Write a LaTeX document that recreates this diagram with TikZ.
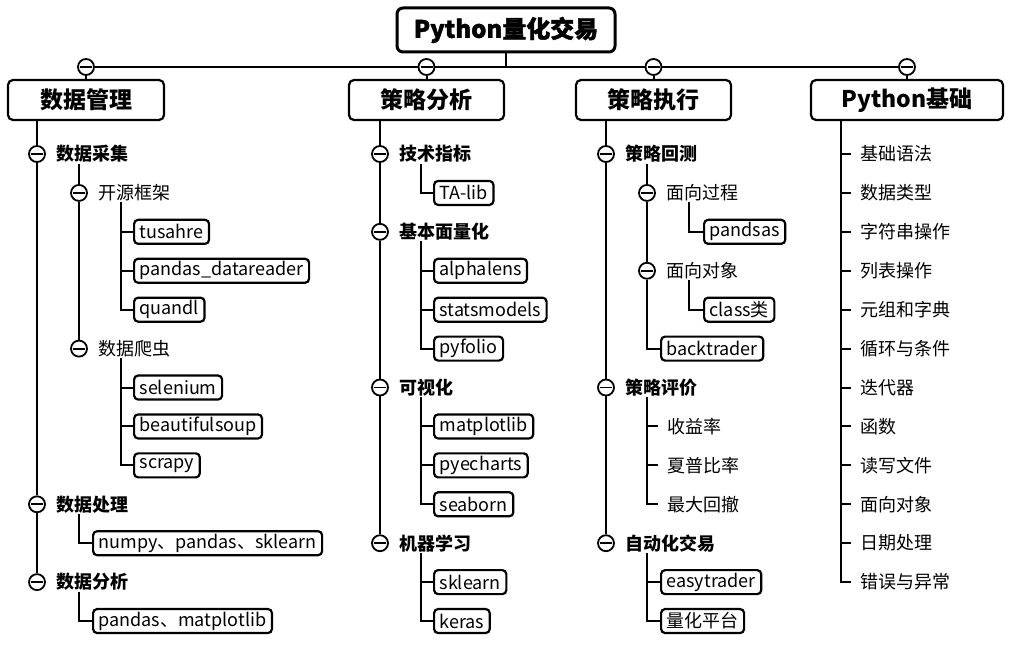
\documentclass[tikz,border=0pt]{standalone}
\usepackage{fontspec}
\setmainfont{Noto Sans CJK SC}
\newfontfamily\titlefont{Noto Sans CJK SC}[BoldFeatures={FakeBold=1.6}]
\usetikzlibrary{positioning}

\newcommand{\rowy}[1]{154+38.92*#1}

\tikzset{
  every path/.style={line width=2pt},
  titlebox/.style={draw, rounded corners=6pt, line width=3pt, minimum width=218pt, minimum height=44pt, inner sep=0pt, font=\titlefont\fontsize{24}{26}\selectfont\bfseries},
  mainbox/.style={draw, rounded corners=5pt, line width=2.2pt, minimum height=40pt, inner sep=0pt, font=\fontsize{23}{25}\selectfont\bfseries},
  libbox/.style={draw, rounded corners=4pt, line width=2.2pt, minimum height=24pt, inner xsep=5.5pt, inner ysep=0pt, anchor=west, font=\fontsize{18}{20}\selectfont},
  topic/.style={anchor=west, inner sep=0pt, font=\fontsize{18}{20}\selectfont\bfseries},
  subtopic/.style={anchor=west, inner sep=0pt, font=\fontsize{18}{20}\selectfont},
  leaf/.style={anchor=west, inner ysep=0pt, inner xsep=0pt, outer xsep=9pt, font=\fontsize{18}{20}\selectfont},
  fold/.style={circle, draw, fill=white, line width=1.8pt, minimum size=16pt, inner sep=0pt,
    path picture={\draw[line width=1.8pt] ([xshift=-6pt]path picture bounding box.center) -- ([xshift=6pt]path picture bounding box.center);}},
}

\begin{document}
\begin{tikzpicture}[x=1pt,y=-1pt]
	\useasboundingbox (0,0) rectangle (1013,650);
	% root and main branches
	\node[titlebox] (root) at (506,30) {Python量化交易};
	\node[fold] (f1) at (86,67) {};
	\node[fold] (f2) at (426.5,67) {};
	\node[fold] (f3) at (653.5,67) {};
	\node[fold] (f4) at (907,67) {};
	\node[mainbox, minimum width=156pt] (dm) at (86,100) {数据管理};
	\node[mainbox, minimum width=155pt] (clfx) at (426.5,100) {策略分析};
	\node[mainbox, minimum width=155pt] (clzx) at (653.5,100) {策略执行};
	\node[mainbox, minimum width=192pt] (pyjc) at (907,100) {Python基础};
	\draw (root.south) -- (root.south |- f1.center);
	\draw (f1.east) -- (f2.west);
	\draw (f2.east) -- (f3.west);
	\draw (f3.east) -- (f4.west);
	\draw (f1.south) -- (dm.north);
	\draw (f2.south) -- (clfx.north);
	\draw (f3.south) -- (clzx.north);
	\draw (f4.south) -- (pyjc.north);

	% 数据管理
	\node[fold] (dmA) at (37,{\rowy{0}}) {};
	\node[topic, right=10pt of dmA] (tdmA) {数据采集};
	\node[fold] (dmA1) at (79,{\rowy{1}}) {};
	\node[subtopic, right=10pt of dmA1] (tdmA1) {开源框架};
	\node[libbox] (tushare) at (133,{\rowy{2}}) {tusahre};
	\node[libbox] (pdr) at (133,{\rowy{3}}) {pandas\_datareader};
	\node[libbox] (quandl) at (133,{\rowy{4}}) {quandl};
	\node[fold] (dmA2) at (79,{\rowy{5}}) {};
	\node[subtopic, right=10pt of dmA2] (tdmA2) {数据爬虫};
	\node[libbox] (selenium) at (133,{\rowy{6}}) {selenium};
	\node[libbox] (bsoup) at (133,{\rowy{7}}) {beautifulsoup};
	\node[libbox] (scrapy) at (133,{\rowy{8}}) {scrapy};
	\node[fold] (dmB) at (37,{\rowy{9}}) {};
	\node[topic, right=10pt of dmB] (tdmB) {数据处理};
	\node[libbox] (npsk) at (92,{\rowy{10}}) {numpy、pandas、sklearn};
	\node[fold] (dmC) at (37,{\rowy{11}}) {};
	\node[topic, right=10pt of dmC] (tdmC) {数据分析};
	\node[libbox] (pdmpl) at (92,{\rowy{12}}) {pandas、matplotlib};
	\coordinate (kdm1) at (121,0);
	\draw (dmA.north |- dm.south) -- (dmA.north);
	\draw (dmA.south) -- (dmB.north);
	\draw (dmB.south) -- (dmC.north);
	\draw (dmA1.north |- tdmA.south) -- (dmA1.north);
	\draw (dmA1.south) -- (dmA2.north);
	\draw (kdm1 |- tdmA1.south) |- (quandl.west);
	\draw (tushare.west) -- (tushare.west -| kdm1);
	\draw (pdr.west) -- (pdr.west -| kdm1);
	\draw (kdm1 |- tdmA2.south) |- (scrapy.west);
	\draw (selenium.west) -- (selenium.west -| kdm1);
	\draw (bsoup.west) -- (bsoup.west -| kdm1);
	\draw (dmA1.north |- tdmB.south) |- (npsk.west);
	\draw (dmA1.north |- tdmC.south) |- (pdmpl.west);

	% 策略分析
	\node[fold] (fxA) at (380,{\rowy{0}}) {};
	\node[topic, right=10pt of fxA] (tfxA) {技术指标};
	\node[libbox] (talib) at (433,{\rowy{1}}) {TA-lib};
	\node[fold] (fxB) at (380,{\rowy{2}}) {};
	\node[topic, right=10pt of fxB] (tfxB) {基本面量化};
	\node[libbox] (alphalens) at (433,{\rowy{3}}) {alphalens};
	\node[libbox] (statsm) at (433,{\rowy{4}}) {statsmodels};
	\node[libbox] (pyfolio) at (433,{\rowy{5}}) {pyfolio};
	\node[fold] (fxC) at (380,{\rowy{6}}) {};
	\node[topic, right=10pt of fxC] (tfxC) {可视化};
	\node[libbox] (mpl) at (433,{\rowy{7}}) {matplotlib};
	\node[libbox] (pyecharts) at (433,{\rowy{8}}) {pyecharts};
	\node[libbox] (seaborn) at (433,{\rowy{9}}) {seaborn};
	\node[fold] (fxD) at (380,{\rowy{10}}) {};
	\node[topic, right=10pt of fxD] (tfxD) {机器学习};
	\node[libbox] (sklearn) at (433,{\rowy{11}}) {sklearn};
	\node[libbox] (keras) at (433,{\rowy{12}}) {keras};
	\coordinate (kfx) at (421,0);
	\draw (fxA.north |- clfx.south) -- (fxA.north);
	\draw (fxA.south) -- (fxB.north);
	\draw (fxB.south) -- (fxC.north);
	\draw (fxC.south) -- (fxD.north);
	\draw (kfx |- tfxA.south) |- (talib.west);
	\draw (kfx |- tfxB.south) |- (pyfolio.west);
	\draw (alphalens.west) -- (alphalens.west -| kfx);
	\draw (statsm.west) -- (statsm.west -| kfx);
	\draw (kfx |- tfxC.south) |- (seaborn.west);
	\draw (mpl.west) -- (mpl.west -| kfx);
	\draw (pyecharts.west) -- (pyecharts.west -| kfx);
	\draw (kfx |- tfxD.south) |- (keras.west);
	\draw (sklearn.west) -- (sklearn.west -| kfx);

	% 策略执行
	\node[fold] (zxA) at (606,{\rowy{0}}) {};
	\node[topic, right=10pt of zxA] (tzxA) {策略回测};
	\node[fold] (zxA1) at (647,{\rowy{1}}) {};
	\node[subtopic, right=10pt of zxA1] (tzxA1) {面向过程};
	\node[libbox] (pandsas) at (703,{\rowy{2}}) {pandsas};
	\node[fold] (zxA2) at (647,{\rowy{3}}) {};
	\node[subtopic, right=10pt of zxA2] (tzxA2) {面向对象};
	\node[libbox] (classl) at (703,{\rowy{4}}) {class类};
	\node[libbox] (backtrader) at (660,{\rowy{5}}) {backtrader};
	\node[fold] (zxB) at (606,{\rowy{6}}) {};
	\node[topic, right=10pt of zxB] (tzxB) {策略评价};
	\node[leaf] (syl) at (658,{\rowy{7}}) {收益率};
	\node[leaf] (xpbl) at (658,{\rowy{8}}) {夏普比率};
	\node[leaf] (zdhc) at (658,{\rowy{9}}) {最大回撤};
	\node[fold] (zxC) at (606,{\rowy{10}}) {};
	\node[topic, right=10pt of zxC] (tzxC) {自动化交易};
	\node[libbox] (easytrader) at (660,{\rowy{11}}) {easytrader};
	\node[libbox] (lhpt) at (660,{\rowy{12}}) {量化平台};
	\coordinate (kzx) at (689,0);
	\draw (zxA.north |- clzx.south) -- (zxA.north);
	\draw (zxA.south) -- (zxB.north);
	\draw (zxB.south) -- (zxC.north);
	\draw (zxA1.north |- tzxA.south) -- (zxA1.north);
	\draw (zxA1.south) -- (zxA2.north);
	\draw (zxA2.south) |- (backtrader.west);
	\draw (kzx |- tzxA1.south) |- (pandsas.west);
	\draw (kzx |- tzxA2.south) |- (classl.west);
	\draw (zxA1.north |- tzxB.south) |- (zdhc.west);
	\draw (syl.west) -- (syl.west -| zxA1);
	\draw (xpbl.west) -- (xpbl.west -| zxA1);
	\draw (zxA1.north |- tzxC.south) |- (lhpt.west);
	\draw (easytrader.west) -- (easytrader.west -| zxA1);

	% Python基础
	\node[leaf] (jc1) at (851,{\rowy{0}}) {基础语法};
	\node[leaf] (jc2) at (851,{\rowy{1}}) {数据类型};
	\node[leaf] (jc3) at (851,{\rowy{2}}) {字符串操作};
	\node[leaf] (jc4) at (851,{\rowy{3}}) {列表操作};
	\node[leaf] (jc5) at (851,{\rowy{4}}) {元组和字典};
	\node[leaf] (jc6) at (851,{\rowy{5}}) {循环与条件};
	\node[leaf] (jc7) at (851,{\rowy{6}}) {迭代器};
	\node[leaf] (jc8) at (851,{\rowy{7}}) {函数};
	\node[leaf] (jc9) at (851,{\rowy{8}}) {读写文件};
	\node[leaf] (jc10) at (851,{\rowy{9}}) {面向对象};
	\node[leaf] (jc11) at (851,{\rowy{10}}) {日期处理};
	\node[leaf] (jc12) at (851,{\rowy{11}}) {错误与异常};
	\coordinate (kjc) at (841,0);
	\draw (kjc |- pyjc.south) |- (jc12.west);
	\draw (jc1.west) -- (jc1.west -| kjc);
	\draw (jc2.west) -- (jc2.west -| kjc);
	\draw (jc3.west) -- (jc3.west -| kjc);
	\draw (jc4.west) -- (jc4.west -| kjc);
	\draw (jc5.west) -- (jc5.west -| kjc);
	\draw (jc6.west) -- (jc6.west -| kjc);
	\draw (jc7.west) -- (jc7.west -| kjc);
	\draw (jc8.west) -- (jc8.west -| kjc);
	\draw (jc9.west) -- (jc9.west -| kjc);
	\draw (jc10.west) -- (jc10.west -| kjc);
	\draw (jc11.west) -- (jc11.west -| kjc);
\end{tikzpicture}
\end{document}
